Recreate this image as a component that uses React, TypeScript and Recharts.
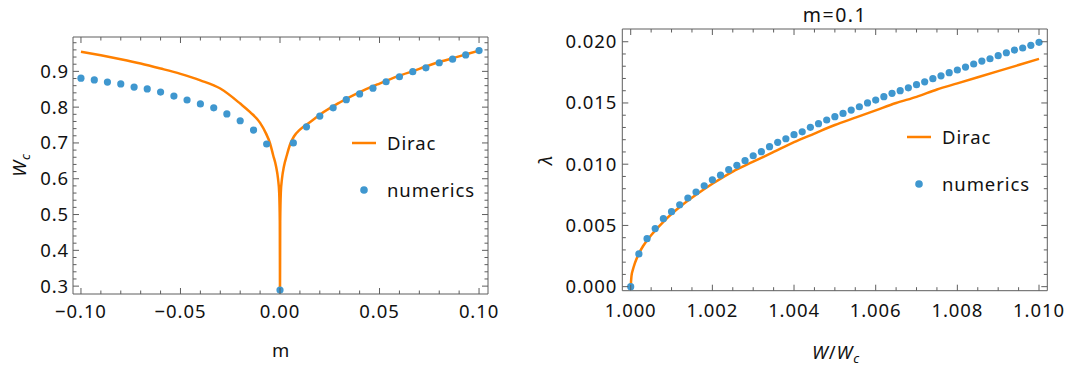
import React from 'react';
import { ComposedChart, Line, Scatter, XAxis, YAxis, Legend } from 'recharts';

// ---------- Left panel data (W_c vs m) ----------
const leftDiracM = [-0.1, -0.09, -0.08, -0.07, -0.06, -0.05, -0.04, -0.03, -0.02, -0.015, -0.01, -0.007, -0.005, -0.0034, -0.002, -0.001, -0.0004, -0.0001, 0, 0.0001, 0.0004, 0.001, 0.002, 0.0034, 0.005, 0.007, 0.01, 0.015, 0.02, 0.03, 0.04, 0.05, 0.06, 0.07, 0.08, 0.09, 0.1];
const leftDiracW = [0.955, 0.945, 0.934, 0.922, 0.908, 0.893, 0.875, 0.852, 0.81, 0.786, 0.756, 0.726, 0.699, 0.665, 0.635, 0.6, 0.56, 0.48, 0.278, 0.48, 0.56, 0.6, 0.635, 0.665, 0.695, 0.718, 0.737, 0.758, 0.779, 0.813, 0.842, 0.866, 0.888, 0.907, 0.926, 0.942, 0.958];

const leftNumM = [-0.1, -0.0933, -0.0867, -0.08, -0.0733, -0.0667, -0.06, -0.0533, -0.0467, -0.04, -0.0333, -0.0267, -0.02, -0.0133, -0.0067, 0, 0.0067, 0.0133, 0.02, 0.0267, 0.0333, 0.04, 0.0467, 0.0533, 0.06, 0.0667, 0.0733, 0.08, 0.0867, 0.0933, 0.1];
const leftNumW = [0.881, 0.876, 0.87, 0.865, 0.856, 0.851, 0.842, 0.831, 0.82, 0.809, 0.798, 0.781, 0.762, 0.736, 0.697, 0.289, 0.7, 0.745, 0.775, 0.798, 0.821, 0.837, 0.853, 0.871, 0.885, 0.899, 0.91, 0.924, 0.934, 0.946, 0.958];

const leftXTicks = [-0.1, -0.09, -0.08, -0.07, -0.06, -0.05, -0.04, -0.03, -0.02, -0.01, 0, 0.01, 0.02, 0.03, 0.04, 0.05, 0.06, 0.07, 0.08, 0.09, 0.1];
const leftXMajor = [-0.1, -0.05, 0, 0.05, 0.1];
const leftXLabels = ['\u22120.10', '\u22120.05', '0.00', '0.05', '0.10'];
const leftYTicks = [0.3, 0.32, 0.34, 0.36, 0.38, 0.4, 0.42, 0.44, 0.46, 0.48, 0.5, 0.52, 0.54, 0.56, 0.58, 0.6, 0.62, 0.64, 0.66, 0.68, 0.7, 0.72, 0.74, 0.76, 0.78, 0.8, 0.82, 0.84, 0.86, 0.88, 0.9, 0.92, 0.94, 0.96, 0.98];
const leftYMajor = [0.3, 0.4, 0.5, 0.6, 0.7, 0.8, 0.9];
const leftYLabels = ['0.3', '0.4', '0.5', '0.6', '0.7', '0.8', '0.9'];

// ---------- Right panel data (lambda vs W/W_c, m=0.1) ----------
const rightDiracX = [1.0, 1.00002, 1.00005, 1.0001, 1.0002, 1.0003, 1.0005, 1.0008, 1.0012, 1.0016, 1.002, 1.0025, 1.003, 1.0035, 1.004, 1.0045, 1.005, 1.0055, 1.006, 1.0065, 1.007, 1.0075, 1.008, 1.0085, 1.009, 1.0095, 1.01];
const rightDiracL = [0, 0.0009, 0.00135, 0.0019, 0.0027, 0.0033, 0.0042, 0.0053, 0.0065, 0.0075, 0.0084, 0.0094, 0.0102, 0.011, 0.0118, 0.0125, 0.0132, 0.0138, 0.0144, 0.015, 0.0155, 0.0161, 0.0166, 0.0171, 0.0176, 0.0181, 0.0186];

const rightNumX = [1.0, 1.0002, 1.0004, 1.0006, 1.0008, 1.001, 1.0012, 1.0014, 1.0016, 1.0018, 1.002, 1.0022, 1.0024, 1.0026, 1.0028, 1.003, 1.0032, 1.0034, 1.0036, 1.0038, 1.004, 1.0042, 1.0044, 1.0046, 1.0048, 1.005, 1.0052, 1.0054, 1.0056, 1.0058, 1.006, 1.0062, 1.0064, 1.0066, 1.0068, 1.007, 1.0072, 1.0074, 1.0076, 1.0078, 1.008, 1.0082, 1.0084, 1.0086, 1.0088, 1.009, 1.0092, 1.0094, 1.0096, 1.0098, 1.01];
const rightNumL = [0, 0.00267, 0.00392, 0.00474, 0.00555, 0.00612, 0.00669, 0.00724, 0.00773, 0.00824, 0.00873, 0.0091, 0.00955, 0.00991, 0.01029, 0.01069, 0.01102, 0.01143, 0.01179, 0.01208, 0.01241, 0.01264, 0.01301, 0.01331, 0.01361, 0.01388, 0.01415, 0.01442, 0.01469, 0.015, 0.01524, 0.01551, 0.01579, 0.016, 0.01624, 0.01649, 0.01673, 0.01698, 0.01722, 0.01747, 0.01769, 0.01793, 0.01818, 0.01842, 0.01861, 0.01886, 0.0191, 0.01932, 0.01949, 0.01971, 0.01995];

const rightXTicks = [1.0, 1.0005, 1.001, 1.0015, 1.002, 1.0025, 1.003, 1.0035, 1.004, 1.0045, 1.005, 1.0055, 1.006, 1.0065, 1.007, 1.0075, 1.008, 1.0085, 1.009, 1.0095, 1.01];
const rightXMajor = [1.0, 1.002, 1.004, 1.006, 1.008, 1.01];
const rightXLabels = ['1.000', '1.002', '1.004', '1.006', '1.008', '1.010'];
const rightYTicks = [0, 0.001, 0.002, 0.003, 0.004, 0.005, 0.006, 0.007, 0.008, 0.009, 0.01, 0.011, 0.012, 0.013, 0.014, 0.015, 0.016, 0.017, 0.018, 0.019, 0.02];
const rightYMajor = [0, 0.005, 0.01, 0.015, 0.02];
const rightYLabels = ['0.000', '0.005', '0.010', '0.015', '0.020'];

const seriesNames = ['Dirac', 'numerics'];
const titleText = 'm=0.1';

// ---------- styles ----------
const ORANGE = '#ff8000';
const BLUE = '#3f97cf';
const FRAME = '#5e5e5e';
const FONT = '"Noto Sans", sans-serif';
const FS = 18.5;
const LS = 0.9;

const toPts = (xs: number[], ys: number[]) => xs.map((x, i) => ({ x, y: ys[i] }));

type Side = 'bottom' | 'top' | 'left' | 'right';

function makeTick(side: Side, majors: number[], labels: string[] | null, labelOffset: number) {
  return function TickMark(props: any) {
    const { x, y, payload } = props;
    const v = Number(payload.value);
    const idx = majors.findIndex((m) => Math.abs(m - v) < 1e-9);
    const len = idx >= 0 ? 6 : 3.5;
    let x2 = x;
    let y2 = y;
    if (side === 'bottom') y2 = y - len;
    if (side === 'top') y2 = y + len;
    if (side === 'left') x2 = x + len;
    if (side === 'right') x2 = x - len;
    let label: React.ReactNode = null;
    if (labels && idx >= 0) {
      const st = { fontFamily: FONT, fontSize: FS, letterSpacing: LS, fill: '#111' };
      if (side === 'bottom') {
        label = (
          <text x={x} y={y + labelOffset} textAnchor="middle" style={st}>
            {labels[idx]}
          </text>
        );
      } else if (side === 'left') {
        label = (
          <text x={x - labelOffset} y={y + 6.5} textAnchor="end" style={st}>
            {labels[idx]}
          </text>
        );
      }
    }
    return (
      <g>
        <line x1={x} y1={y} x2={x2} y2={y2} stroke={FRAME} strokeWidth={1} />
        {label}
      </g>
    );
  };
}

const DotShape = (props: any) => <circle cx={props.cx} cy={props.cy} r={3.6} fill={BLUE} />;

function LegendContent(props: any) {
  const payload: any[] = props.payload || [];
  const items = seriesNames.map((n) => payload.find((p) => p.value === n)).filter(Boolean);
  return (
    <div style={{ fontFamily: FONT, fontSize: FS, letterSpacing: LS, color: '#111' }}>
      {items.map((it: any) => (
        <div key={it.value} style={{ display: 'flex', alignItems: 'center', height: 47.6 }}>
          <svg width={24} height={10} style={{ display: 'block' }}>
            {it.type === 'line' ? (
              <line x1={0} y1={5} x2={24} y2={5} stroke={ORANGE} strokeWidth={2.5} />
            ) : (
              <circle cx={12} cy={5} r={3.8} fill={BLUE} />
            )}
          </svg>
          <span style={{ marginLeft: 11.5, lineHeight: '20px' }}>{it.value}</span>
        </div>
      ))}
    </div>
  );
}

const abs = (left: number, top: number): React.CSSProperties => ({
  position: 'absolute',
  left,
  top,
  transform: 'translate(-50%, -50%)',
  fontFamily: FONT,
  fontSize: FS,
  letterSpacing: LS,
  color: '#111',
  whiteSpace: 'nowrap',
  lineHeight: 1,
});

export default function App() {
  const leftDirac = toPts(leftDiracM, leftDiracW);
  const leftNum = toPts(leftNumM, leftNumW);
  const rightDirac = toPts(rightDiracX, rightDiracL);
  const rightNum = toPts(rightNumX, rightNumL);

  const common = { tickSize: 0, tickMargin: 0, tickLine: false, interval: 0 as const, allowDataOverflow: true, axisLine: { stroke: FRAME } };

  return (
    <div style={{ position: 'absolute', left: 0, top: 0, width: 1073, height: 369, background: '#fff', overflow: 'hidden' }}>
      {/* Left panel */}
      <div style={{ position: 'absolute', left: 0, top: 0 }}>
        <ComposedChart width={545} height={369} margin={{ top: 36, right: 56, bottom: 74, left: 72 }}>
          <XAxis xAxisId="b" dataKey="x" type="number" domain={[-0.104, 0.1045]} ticks={leftXTicks} height={1} {...common} tick={makeTick('bottom', leftXMajor, leftXLabels, 24)} />
          <XAxis xAxisId="t" orientation="top" dataKey="x" type="number" domain={[-0.104, 0.1045]} ticks={leftXTicks} height={1} {...common} tick={makeTick('top', leftXMajor, null, 0)} />
          <YAxis yAxisId="l" type="number" domain={[0.278, 0.996]} ticks={leftYTicks} width={1} {...common} tick={makeTick('left', leftYMajor, leftYLabels, 4)} />
          <YAxis yAxisId="r" orientation="right" type="number" domain={[0.278, 0.996]} ticks={leftYTicks} width={1} {...common} tick={makeTick('right', leftYMajor, null, 0)} />
          <Line xAxisId="b" yAxisId="l" data={leftDirac} dataKey="y" name="Dirac" type="monotone" stroke={ORANGE} strokeWidth={2.5} dot={false} activeDot={false} legendType="line" isAnimationActive={false} />
          <Scatter xAxisId="b" yAxisId="l" data={leftNum} dataKey="y" name="numerics" fill={BLUE} shape={DotShape} legendType="circle" isAnimationActive={false} />
          <Legend layout="vertical" align="center" verticalAlign="middle" wrapperStyle={{ left: 351.5, top: 119, width: 'auto' }} content={LegendContent} />
        </ComposedChart>
      </div>

      {/* Right panel */}
      <div style={{ position: 'absolute', left: 540, top: 0 }}>
        <ComposedChart width={533} height={369} margin={{ top: 28, right: 24.7, bottom: 77.3, left: 81.3 }}>
          <XAxis xAxisId="b" dataKey="x" type="number" domain={[0.999794, 1.010203]} ticks={rightXTicks} height={1} {...common} tick={makeTick('bottom', rightXMajor, rightXLabels, 26)} />
          <XAxis xAxisId="t" orientation="top" dataKey="x" type="number" domain={[0.999794, 1.010203]} ticks={rightXTicks} height={1} {...common} tick={makeTick('top', rightXMajor, null, 0)} />
          <YAxis yAxisId="l" type="number" domain={[-0.00033, 0.02104]} ticks={rightYTicks} width={1} {...common} tick={makeTick('left', rightYMajor, rightYLabels, 5)} />
          <YAxis yAxisId="r" orientation="right" type="number" domain={[-0.00033, 0.02104]} ticks={rightYTicks} width={1} {...common} tick={makeTick('right', rightYMajor, null, 0)} />
          <Line xAxisId="b" yAxisId="l" data={rightDirac} dataKey="y" name="Dirac" type="monotone" stroke={ORANGE} strokeWidth={2.5} dot={false} activeDot={false} legendType="line" isAnimationActive={false} />
          <Scatter xAxisId="b" yAxisId="l" data={rightNum} dataKey="y" name="numerics" fill={BLUE} shape={DotShape} legendType="circle" isAnimationActive={false} />
          <Legend layout="vertical" align="center" verticalAlign="middle" wrapperStyle={{ left: 366.5, top: 113, width: 'auto' }} content={LegendContent} />
        </ComposedChart>
      </div>

      {/* Axis labels and title */}
      <div style={{ ...abs(19, 165), transform: 'translate(-50%, -50%) rotate(-90deg)' }}>
        <span style={{ fontStyle: 'italic' }}>W</span>
        <span style={{ fontStyle: 'italic', fontSize: 13, position: 'relative', top: 4 }}>c</span>
      </div>
      <div style={abs(281, 350)}>m</div>
      <div style={{ ...abs(545, 160), transform: 'translate(-50%, -50%) rotate(-90deg)' }}>
        <span style={{ fontStyle: 'italic' }}>{'\u03bb'}</span>
      </div>
      <div style={abs(836, 352)}>
        <span style={{ fontStyle: 'italic' }}>W</span>
        <span>/</span>
        <span style={{ fontStyle: 'italic' }}>W</span>
        <span style={{ fontStyle: 'italic', fontSize: 13, position: 'relative', top: 4 }}>c</span>
      </div>
      <div
        style={{
          position: 'absolute',
          left: 835,
          top: 0.5,
          transform: 'translateX(-50%)',
          fontFamily: FONT,
          fontSize: 19.5,
          letterSpacing: 1.5,
          color: '#111',
          whiteSpace: 'nowrap',
          lineHeight: 'normal',
        }}
      >
        {titleText}
      </div>
    </div>
  );
}
